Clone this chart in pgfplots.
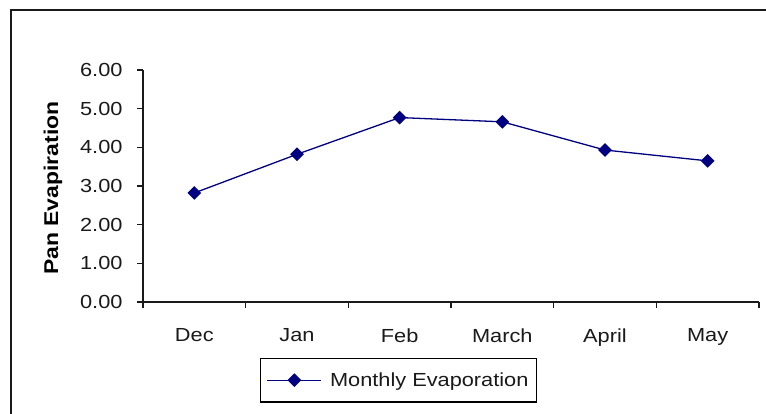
\documentclass[border=0pt]{standalone}
\usepackage{pgfplots}
\pgfplotsset{compat=1.18}
\usepackage{fontspec}
\setmainfont{Liberation Sans}[FakeStretch=1.15]
\definecolor{navyline}{HTML}{000080}
\definecolor{inkgray}{HTML}{1A1A1A}

\begin{document}
\begin{tikzpicture}
% canvas: 766 x 414, y measured upward from the bottom edge
\useasboundingbox (0,0) rectangle (766bp,414bp);
\fill[white] (0,0) rectangle (766bp,414bp);
% chart-area frame (runs off the right and bottom edges)
\draw[line width=1.6bp, draw=inkgray] (11bp,-20bp) -- (11bp,404bp) -- (790bp,404bp);

\begin{axis}[
  at={(143bp,112bp)}, anchor=south west,
  scale only axis,
  width=616bp, height=232bp,
  xmin=-0.5, xmax=5.5,
  ymin=0, ymax=6,
  axis lines*=left,
  axis line style={line width=1.4bp, draw=inkgray},
  tick align=outside,
  major tick length=6bp,
  tick style={line width=1.2bp, draw=inkgray},
  xtick={-0.5,0.5,1.5,2.5,3.5,4.5,5.5},
  x tick label as interval,
  xticklabels={Dec,Jan,Feb,March,April,May},
  ytick={0,1,2,3,4,5,6},
  /pgf/number format/fixed,
  /pgf/number format/fixed zerofill,
  /pgf/number format/precision=2,
  /pgf/number format/assume math mode=true,
  ticklabel style={font=\fontsize{19}{22}\selectfont, text=inkgray},
  yticklabel style={xshift=-11bp},
  xticklabel style={yshift=-17bp},
  ylabel={Pan Evapiration},
  ylabel style={at={(axis description cs:-0.146,0.491)}, anchor=center,
    font=\fontsize{20}{24}\selectfont\bfseries, text=black},
  legend style={at={(axis description cs:0.19,-0.241)}, anchor=north west,
    draw=black, line width=1.4bp, inner xsep=6bp, inner ysep=12bp,
    font=\fontsize{19}{22}\selectfont, text=inkgray,
    legend cell align=left},
  legend image code/.code={
    \draw[#1, mark repeat=2, mark phase=2] plot coordinates {(0bp,0bp) (27bp,0bp) (54bp,0bp)};
    \path (60bp,0bp);
  },
  clip=false,
]
\addplot[color=navyline, line width=1.3bp, mark=square*,
  mark options={rotate=45, fill=navyline, draw=navyline}, mark size=4.2bp]
  coordinates {(0,2.82) (1,3.82) (2,4.77) (3,4.66) (4,3.93) (5,3.65)};
\addlegendentry{Monthly Evaporation}
\end{axis}
\end{tikzpicture}
\end{document}
